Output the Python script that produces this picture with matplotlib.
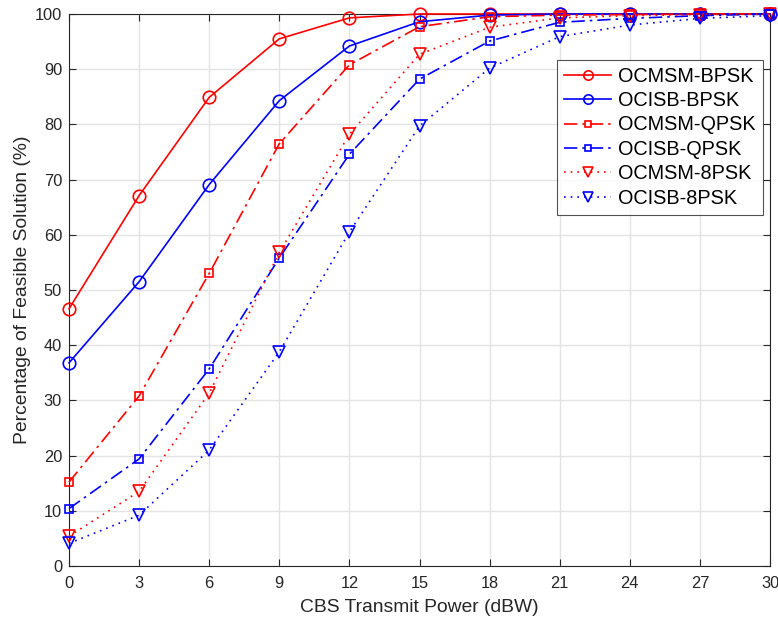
import matplotlib
matplotlib.use("Agg")
import matplotlib.pyplot as plt

power = [0, 3, 6, 9, 12, 15, 18, 21, 24, 27, 30]
ocmsm_bpsk = [46.6, 67.1, 84.9, 95.5, 99.3, 100, 100, 100, 100, 100, 100]
ocisb_bpsk = [36.8, 51.5, 69.1, 84.3, 94.2, 98.6, 99.8, 100, 100, 100, 100]
ocmsm_qpsk = [15.2, 30.8, 53.0, 76.5, 90.8, 97.7, 99.5, 99.8, 99.9, 100, 100]
ocisb_qpsk = [10.4, 19.4, 35.7, 55.8, 74.6, 88.2, 95.1, 98.5, 99.2, 99.7, 100]
ocmsm_8psk = [5.4, 13.5, 31.3, 56.8, 78.2, 92.7, 97.6, 99.3, 99.7, 99.9, 100]
ocisb_8psk = [4.1, 9.2, 21.0, 38.8, 60.5, 79.7, 90.2, 95.9, 98.0, 99.2, 99.7]
labels = ["OCMSM-BPSK", "OCISB-BPSK", "OCMSM-QPSK", "OCISB-QPSK", "OCMSM-8PSK", "OCISB-8PSK"]

plt.rcParams['font.family'] = ['Liberation Sans', 'DejaVu Sans']

fig = plt.figure(figsize=(7.78, 6.22), dpi=100)
ax = fig.add_axes([69/778, 1 - 566/622, (770-69)/778, (566-14)/622])

series = [ocmsm_bpsk, ocisb_bpsk, ocmsm_qpsk, ocisb_qpsk, ocmsm_8psk, ocisb_8psk]
colors = ['#ff0000', '#0000ff'] * 3
styles = ['-', '-', (0, (8, 3, 1.5, 3)), (0, (8, 3, 1.5, 3)), (0, (1, 3)), (0, (1, 3))]
markers = ['o', 'o', 's', 's', 'v', 'v']
msizes = [9, 9, 5.5, 5.5, 9, 9]

for y, c, ls, m, ms, lab in zip(series, colors, styles, markers, msizes, labels):
    ax.plot(power, y, color=c, linestyle=ls, marker=m, markersize=ms,
            markerfacecolor='none', markeredgecolor=c, markeredgewidth=1.2,
            linewidth=1.2, label=lab, clip_on=False, zorder=3)

ax.set_xlim(0, 30)
ax.set_ylim(0, 100)
ax.set_xticks(power)
ax.set_yticks(range(0, 101, 10))
ax.grid(True, color='#e3e3e3', linewidth=1)
ax.set_axisbelow(True)
ax.tick_params(direction='in', length=5, labelsize=11.8, colors='#262626', top=True, right=True)
ax.tick_params(axis='x', pad=7)
ax.tick_params(axis='y', pad=5)
for s in ax.spines.values():
    s.set_color('#262626')
    s.set_linewidth(0.8)
ax.set_xlabel('CBS Transmit Power (dBW)', fontsize=13.9, color='#262626', labelpad=6)
ax.set_ylabel('Percentage of Feasible Solution (%)', fontsize=13.9, color='#262626', labelpad=3)

leg = ax.legend(loc='upper right', bbox_to_anchor=(0.990, 0.917), fontsize=14.3,
                frameon=True, fancybox=False, edgecolor='#262626', handlelength=2.4,
                handletextpad=0.35, borderpad=0.35, labelspacing=0.27, borderaxespad=0,
                markerscale=0.75)
leg.get_frame().set_linewidth(0.8)

fig.savefig('out.png', dpi=100)
